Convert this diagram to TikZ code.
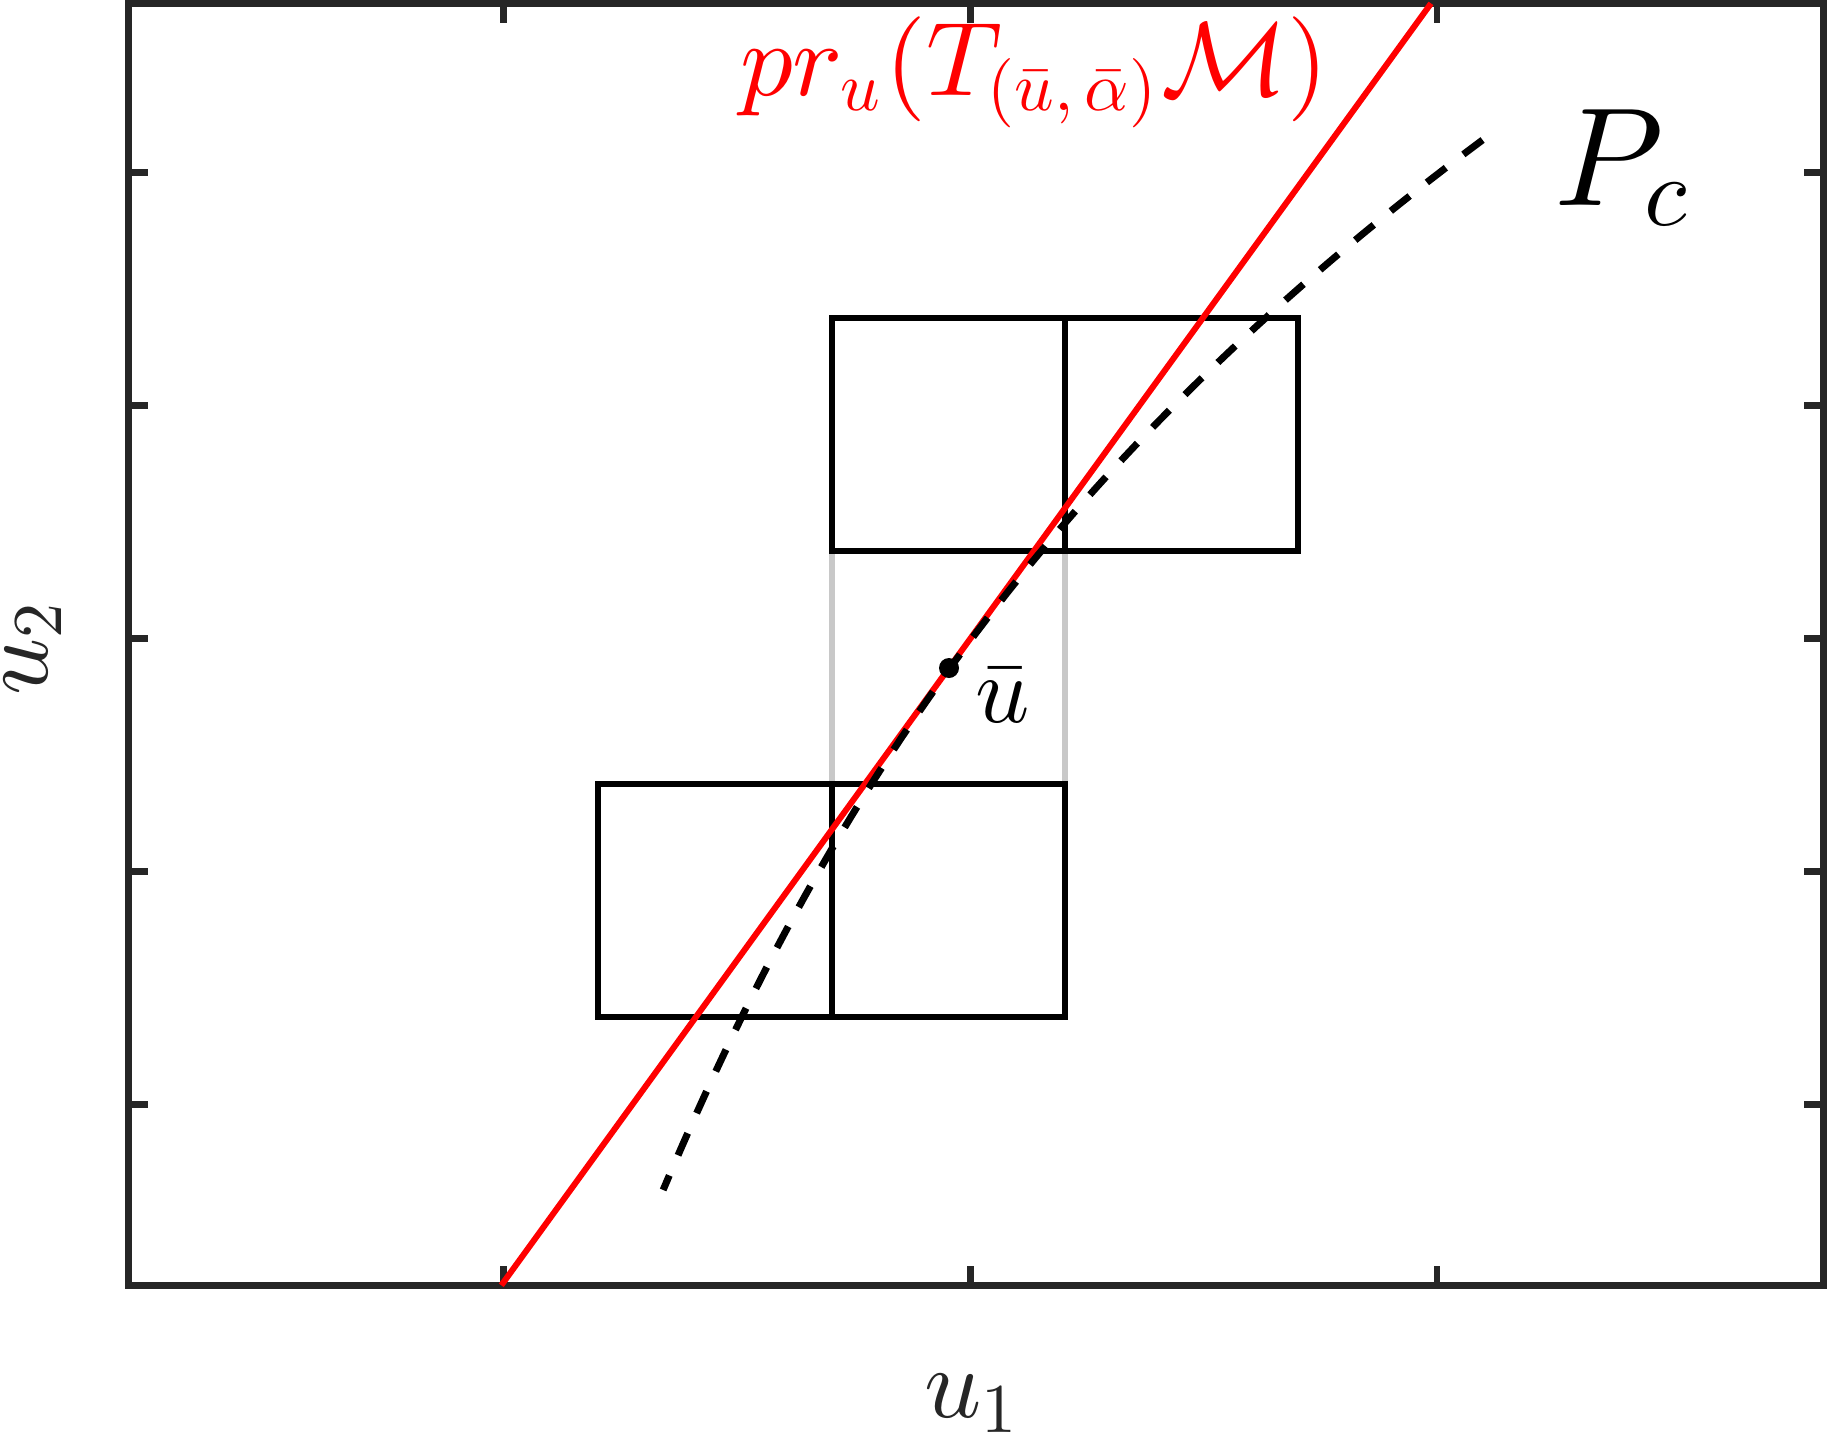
\documentclass[tikz,border=0pt]{standalone}
\usepackage{graphicx}
\definecolor{axgray}{HTML}{262626}
\definecolor{lgray}{HTML}{C8C8C8}
\newcommand{\subsc}[2][0.7]{\scalebox{#1}{$#2$}}
\tikzset{
  axline/.style={draw=axgray, line width=6.7pt},
  tickline/.style={draw=axgray, line width=6.7pt},
  cellbox/.style={draw=black, line width=6pt},
  guide/.style={draw=lgray, line width=6pt},
  tanline/.style={draw=red, line width=6pt},
  curveline/.style={draw=black, line width=7pt, dash pattern=on 24pt off 22pt},
  redlbl/.style={inner sep=0pt, text=red, scale=10.5},
  pclbl/.style={inner sep=0pt, scale=14},
  axlbl/.style={inner sep=0pt, text=axgray, scale=10},
  ulbl/.style={inner sep=0pt, scale=9.5},
}
\begin{document}
\begin{tikzpicture}[x=1pt,y=-1pt]
\useasboundingbox (0,0) rectangle (1827,1433);
% axes box
\draw[axline] (128.5,3.4) rectangle (1823.5,1285.3);
% ticks
\foreach \yy in {172.4,405.5,638.5,871.6,1104.6}{
  \draw[tickline] (128.5,\yy) -- (148,\yy);
  \draw[tickline] (1823.5,\yy) -- (1804,\yy);
}
\foreach \xx in {503.5,970.5,1437}{
  \draw[tickline] (\xx,1285.3) -- (\xx,1266);
  \draw[tickline] (\xx,3.4) -- (\xx,23);
}
% guide lines
\coordinate (gl1) at (832,551);
\coordinate (gl2) at (832,784);
\coordinate (gr1) at (1065,551);
\coordinate (gr2) at (1065,784);
\draw[guide] (gl1) -- (gl2);
\draw[guide] (gr1) -- (gr2);
% upper cells
\draw[cellbox] (832,318) rectangle (1298,551);
\draw[cellbox] (1065,318) -- (1065,551);
% lower cells
\draw[cellbox] (598,784) rectangle (1065,1017);
\draw[cellbox] (832,784) -- (832,1017);
% tangent line
\coordinate (tA) at (501.3,1285.3);
\coordinate (tB) at (1431,3.4);
\draw[tanline] (tA) -- (tB);
% dashed curve
\draw[curveline] plot[domain=-5.28:5.22, samples=80, variable=\t]
  ({950 - 72.6*\t + 4.36*\t*\t - 0.188*\t*\t*\t}, {668 + 100*\t});
% point
\fill[black] (949,668) circle (10);
\node[ulbl, anchor=base west] (ubar) at (974,722) {$\bar{u}$};
% labels
\node[redlbl, anchor=base west] (lblT) at (738,95) {$pr_{\subsc[0.66]{u}}(T_{\subsc[0.66]{(\bar{u},\bar{\alpha})}}\mathcal{M})$};
\node[pclbl, anchor=base west] (lblP) at (1552,205) {$P_{\subsc{c}}$};
\node[axlbl, anchor=base] (lblx) at (973,1417) {$u_{\subsc{1}}$};
\node[axlbl, anchor=base, rotate=90] (lbly) at (47,647) {$u_{\subsc{2}}$};
\end{tikzpicture}
\end{document}
